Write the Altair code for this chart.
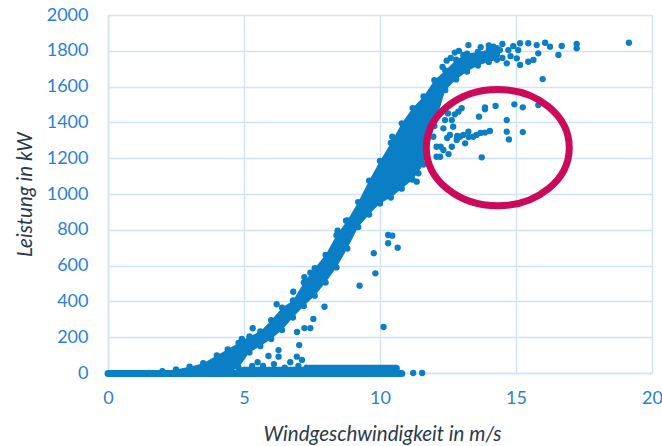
import altair as alt
import pandas as pd

# ---------------------------------------------------------------
# Wind turbine power curve (Leistung über Windgeschwindigkeit)
# ---------------------------------------------------------------

# Dense core of the measured cloud: wind speed samples with the
# lower and upper edge of the point band (kW)
band_wind = [1.5, 2.0, 2.5, 3.0, 3.5, 4.0, 4.4, 4.8, 5.2, 5.6, 6.0, 6.4,
             6.8, 7.2, 7.6, 8.0, 8.4, 8.8, 9.2, 9.6, 10.0, 10.4, 10.8,
             11.2, 11.6, 12.0, 12.4, 12.8, 13.2, 13.6, 14.0, 14.3]
band_upper = [0, 10, 20, 35, 55, 98, 132, 168, 205, 232, 295, 365,
              405, 505, 585, 660, 770, 852, 955, 1075, 1185, 1285, 1395,
              1480, 1545, 1636, 1690, 1750, 1784, 1794, 1805, 1815]
band_lower = [0, 0, 0, 0, 0, 0, 0, 30, 115, 150, 190, 240,
              310, 375, 432, 505, 590, 695, 815, 885, 947, 980, 1030,
              1080, 1165, 1380, 1580, 1640, 1684, 1718, 1738, 1750]

# Rows of readings at (almost) zero output: start, end, power
row_start = [0.0, 5.0, 7.4]
row_end = [10.8, 7.4, 10.6]
row_power = [-3, 15, 27]

# Single readings outside the dense band
scatter_wind = [
    # near-zero / start-up region
    11.22, 11.55, 5.3, 5.5, 5.7, 5.9, 6.1, 6.27, 6.27, 6.5, 6.7, 6.94, 7.0, 7.13, 7.3,
    # below the band (curtailment / icing)
    7.03, 6.95, 7.22, 7.44, 7.55, 7.96, 9.25, 9.83, 9.77, 10.13, 10.3, 10.3, 10.45, 10.65,
    # above the band
    4.92, 5.32, 6.2, 6.81, 7.22, 7.44, 8.44, 8.75, 10.45,
    11.35, 11.41, 12.08,
    # derated group (circled)
    13.74, 13.64, 13.86, 13.86, 14.25, 14.94, 15.25, 15.82, 14.66, 14.66, 14.74, 15.25,
    14.04, 13.86, 13.55, 13.43, 13.25, 13.06, 12.94, 13.13, 12.82, 12.57, 12.64, 12.33,
    12.21, 11.96, 12.08, 13.0, 12.88, 12.64, 12.69, 12.33, 12.39, 12.5, 12.75, 12.47,
    13.7, 13.26, 12.84, 12.23, 12.52,
    # rated power plateau
    13.25, 13.06, 13.7, 14.0, 14.17, 14.41, 14.5, 14.3, 14.5, 14.72, 14.66, 14.8, 14.9,
    15.03, 15.08, 15.15, 15.45, 15.76, 16.07, 16.25, 16.68, 16.56, 17.23, 17.23,
    15.98, 15.45, 15.15, 15.64, 15.82, 19.15,
    12.3, 12.6, 12.9, 12.45, 12.75,
]
scatter_power = [
    0, 0, 40, 60, 40, 95, 50, 128, 91, 30, 60, 91, 40, 73, 30,
    156, 229, 251, 251, 302, 370, 488, 557, 669, 257, 725, 771, 767, 700,
    190, 250, 384, 454, 535, 560, 795, 851, 1320,
    1069, 1116, 1208,
    1205, 1432, 1484, 1473, 1492, 1501, 1484, 1497, 1413, 1348, 1305, 1346,
    1352, 1343, 1330, 1320, 1348, 1330, 1320, 1283, 1302, 1330, 1264, 1246,
    1208, 1320, 1264, 1479, 1460, 1413, 1376, 1367, 1413, 1450, 1445, 1313,
    1341, 1318, 1324, 1264, 1223,
    1832, 1777, 1820, 1830, 1823, 1804, 1838, 1780, 1760, 1804, 1730, 1770, 1826,
    1758, 1804, 1842, 1842, 1832, 1845, 1823, 1827, 1777, 1838, 1814,
    1642, 1739, 1721, 1749, 1786, 1845,
    1710, 1760, 1800, 1745, 1790,
]

# Annotation ellipse around the derated group
ring_wind = [14.33]
ring_power = [1259]

POINT = "#0a7fc5"
GRID = "#d3e3f6"
LABEL = "#2b7fd6"
TITLE = "#2b3a4b"
FONT = "Lato"
DOT = 40

band = pd.DataFrame({"wind": band_wind, "lo": band_lower, "hi": band_upper})
rows = pd.DataFrame({"x0": row_start, "x1": row_end, "p": row_power})
pts = pd.DataFrame({"wind": scatter_wind, "power": scatter_power})
edge = pd.concat([
    pd.DataFrame({"wind": band_wind, "power": band_upper}),
    pd.DataFrame({"wind": band_wind, "power": band_lower}).query("power > 0"),
])
ring = pd.DataFrame({"wind": ring_wind, "power": ring_power})

x_scale = alt.Scale(domain=[0, 20], nice=False, zero=False)
y_scale = alt.Scale(domain=[0, 2000], nice=False)

x_axis = alt.Axis(
    values=[0, 5, 10, 15, 20], title="Windgeschwindigkeit in m/s",
    format="d",
    grid=True, gridColor=GRID, gridWidth=1.5,
    domainColor=GRID, domainWidth=1.5, ticks=False, tickSize=0,
    labelColor=LABEL, labelFont=FONT, labelFontSize=18, labelPadding=16,
    labelFlush=False, labelOverlap=False,
    titleFont=FONT, titleFontSize=20.5, titleFontStyle="italic",
    titleFontWeight="normal", titleColor=TITLE,
    titleX=274, titleY=67, titleBaseline="alphabetic", titleAlign="center",
)
y_axis = alt.Axis(
    values=list(range(0, 2001, 200)), title="Leistung in kW",
    format="d",
    grid=True, gridColor=GRID, gridWidth=1.5,
    domainColor=GRID, domainWidth=1.5, ticks=False, tickSize=0,
    labelColor=LABEL, labelFont=FONT, labelFontSize=18, labelPadding=20,
    labelFlush=False, labelOverlap=False,
    titleFont=FONT, titleFontSize=20.5, titleFontStyle="italic",
    titleFontWeight="normal", titleColor=TITLE,
    titleX=-83, titleY=179, titleBaseline="middle", titleAlign="center",
    titleAngle=270,
)


def xq(field):
    return alt.X(field, type="quantitative", scale=x_scale, axis=x_axis)


def yq(field):
    return alt.Y(field, type="quantitative", scale=y_scale, axis=y_axis)


core = alt.Chart(band).mark_area(color=POINT, opacity=1).encode(
    x=xq("wind"), y=yq("hi"), y2="lo:Q",
)

zero_rows = alt.Chart(rows).mark_rule(
    color=POINT, strokeWidth=7, strokeCap="round"
).encode(x=xq("x0"), x2="x1:Q", y=yq("p"))

edges = alt.Chart(edge).mark_circle(color=POINT, size=DOT, opacity=1).encode(
    x=xq("wind"), y=yq("power")
)

dots = alt.Chart(pts).mark_circle(color=POINT, size=DOT, opacity=1).encode(
    x=xq("wind"), y=yq("power")
)

# ellipse drawn as a custom symbol path (rx = 1, ry = 0.814)
ELLIPSE = ("M -1 0 C -1 -0.4496 -0.5523 -0.814 0 -0.814 "
           "C 0.5523 -0.814 1 -0.4496 1 0 "
           "C 1 0.4496 0.5523 0.814 0 0.814 "
           "C -0.5523 0.814 -1 0.4496 -1 0 Z")
ring_mark = alt.Chart(ring).mark_point(
    shape=ELLIPSE, filled=False, stroke="#cc0a5a", strokeWidth=7,
    size=20449, opacity=1,
).encode(x=xq("wind"), y=yq("power"))

chart = alt.layer(core, zero_rows, edges, dots, ring_mark).properties(
    width=544, height=358,
    autosize=alt.AutoSizeParams(type="none"),
    padding={"left": 108, "top": 15, "right": 10, "bottom": 73},
    background="white",
).configure_view(strokeWidth=0)

chart.save("out.html", embed_options={"renderer": "svg", "actions": False})
